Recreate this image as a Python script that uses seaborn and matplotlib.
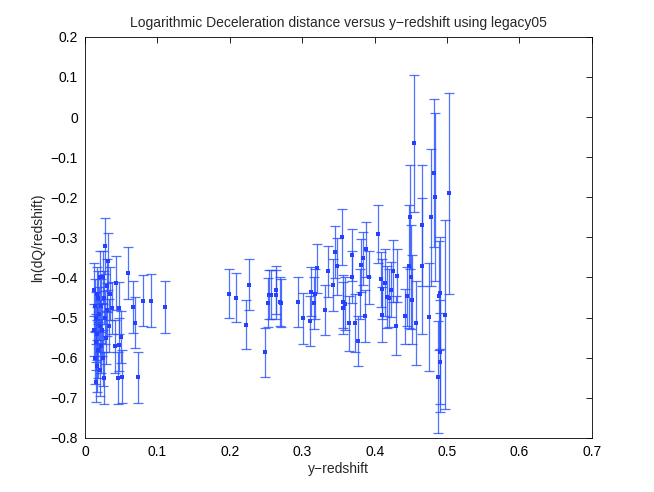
import matplotlib
matplotlib.use("Agg")
import matplotlib.pyplot as plt
import seaborn as sns
import numpy as np
import pandas as pd

# redshift, ln(dQ/redshift), error half-length
z = [
    0.0125, 0.0130, 0.0135, 0.0140, 0.0145, 0.0150, 0.0155, 0.0160, 0.0165, 0.0170,
    0.0175, 0.0185, 0.0190, 0.0200, 0.0205, 0.0210, 0.0215, 0.0225, 0.0235, 0.0245,
    0.0250, 0.0260, 0.0262, 0.0270, 0.0280, 0.0290, 0.0300, 0.0310, 0.0320, 0.0330,
    0.0345, 0.0373, 0.0410, 0.0428, 0.0460, 0.0474, 0.0474, 0.0502, 0.0515, 0.0598,
    0.0659, 0.0695, 0.0732, 0.0806, 0.0916, 0.1110,
    0.1993, 0.2086, 0.2261, 0.2224, 0.2490, 0.2523, 0.2546, 0.2573, 0.2638, 0.2638,
    0.2693, 0.2712, 0.2938, 0.3015, 0.3108, 0.3117, 0.3163, 0.3173, 0.3204, 0.3319,
    0.3360, 0.3430, 0.3453, 0.3476, 0.3550, 0.3560, 0.3568, 0.3587, 0.3642, 0.3688,
    0.3684, 0.3729, 0.3775, 0.3798, 0.3808, 0.3836, 0.3863, 0.3881, 0.3927, 0.4051,
    0.4084, 0.4098, 0.4106, 0.4144, 0.4175, 0.4203, 0.4227, 0.4258, 0.4300, 0.4314,
    0.4425, 0.4452, 0.4480, 0.4490, 0.4500, 0.4517, 0.4544, 0.4570, 0.4660, 0.4660,
    0.4756, 0.4775, 0.4820, 0.4830, 0.4880, 0.4885, 0.4900, 0.4908, 0.4900, 0.4968,
    0.5032,
]
lnq = [
    -0.430, -0.530, -0.600, -0.470, -0.560, -0.660, -0.500, -0.440, -0.620, -0.540,
    -0.580, -0.450, -0.490, -0.520, -0.630, -0.400, -0.570, -0.470, -0.530, -0.400,
    -0.600, -0.450, -0.651, -0.500, -0.3225, -0.550, -0.420, -0.480, -0.360, -0.520,
    -0.440, -0.477, -0.572, -0.413, -0.651, -0.477, -0.568, -0.549, -0.647, -0.388,
    -0.474, -0.5125, -0.649, -0.4575, -0.4575, -0.474,
    -0.440, -0.451, -0.4175, -0.518, -0.587, -0.4625, -0.4425, -0.4425, -0.431, -0.4425,
    -0.460, -0.464, -0.4617, -0.5017, -0.509, -0.435, -0.463, -0.441, -0.3775, -0.481,
    -0.385, -0.418, -0.336, -0.3725, -0.299, -0.460, -0.476, -0.465, -0.514, -0.345,
    -0.399, -0.513, -0.5575, -0.441, -0.370, -0.352, -0.496, -0.330, -0.399, -0.292,
    -0.405, -0.428, -0.493, -0.413, -0.449, -0.451, -0.430, -0.384, -0.520, -0.396,
    -0.497, -0.447, -0.372, -0.250, -0.399, -0.455, -0.0658, -0.513, -0.270, -0.372,
    -0.499, -0.250, -0.139, -0.199, -0.649, -0.445, -0.438, -0.612, -0.585, -0.4925,
    -0.190,
]
err = [
    0.065, 0.065, 0.066, 0.065, 0.070, 0.050, 0.065, 0.066, 0.065, 0.067,
    0.070, 0.065, 0.066, 0.065, 0.066, 0.065, 0.067, 0.065, 0.066, 0.066,
    0.070, 0.066, 0.065, 0.067, 0.070, 0.066, 0.067, 0.066, 0.070, 0.066,
    0.067, 0.065, 0.066, 0.067, 0.065, 0.065, 0.066, 0.065, 0.065, 0.065,
    0.064, 0.064, 0.063, 0.064, 0.065, 0.064,
    0.061, 0.061, 0.0625, 0.061, 0.061, 0.060, 0.060, 0.060, 0.060, 0.060,
    0.060, 0.060, 0.062, 0.063, 0.063, 0.062, 0.065, 0.063, 0.062, 0.063,
    0.063, 0.065, 0.065, 0.070, 0.070, 0.065, 0.065, 0.065, 0.069, 0.065,
    0.064, 0.073, 0.062, 0.062, 0.066, 0.066, 0.064, 0.068, 0.066, 0.072,
    0.068, 0.075, 0.069, 0.084, 0.077, 0.072, 0.069, 0.077, 0.073, 0.066,
    0.069, 0.073, 0.153, 0.130, 0.130, 0.110, 0.170, 0.104, 0.150, 0.170,
    0.134, 0.170, 0.185, 0.210, 0.140, 0.137, 0.140, 0.124, 0.130, 0.236,
    0.250,
]

df = pd.DataFrame({"z": z, "lnq": lnq, "err": err})

sns.set_theme(style="white")
plt.rcParams["font.family"] = ["Liberation Sans", "DejaVu Sans"]
plt.rcParams["xtick.direction"] = "in"
plt.rcParams["ytick.direction"] = "in"

blue = (0.15, 0.3, 1.0)

fig = plt.figure(figsize=(6.54, 4.92), dpi=100)
ax = fig.add_axes([0.13, 0.11, 0.775, 0.815])

ax.errorbar(df["z"], df["lnq"], yerr=df["err"], fmt="none", ecolor=blue,
            elinewidth=0.9, capsize=3.8, capthick=0.9, alpha=0.8)
sns.scatterplot(data=df, x="z", y="lnq", color=(0.15, 0.25, 1.0), s=6, linewidth=0,
                marker="s", ax=ax, zorder=3)

ax.set_xlim(0, 0.7)
ax.set_ylim(-0.8, 0.2)
xt = [0, 0.1, 0.2, 0.3, 0.4, 0.5, 0.6, 0.7]
yt = [0.2, 0.1, 0, -0.1, -0.2, -0.3, -0.4, -0.5, -0.6, -0.7, -0.8]
ax.set_xticks(xt)
ax.set_xticklabels(["%g" % v for v in xt])
ax.set_yticks(yt)
ax.set_yticklabels([("%g" % v).replace("-", "\u2212") for v in yt])
ax.tick_params(axis="both", labelsize=10, length=4.5, width=0.6, colors="black",
               top=True, right=True, pad=5)
for s in ax.spines.values():
    s.set_color("black")
    s.set_linewidth(0.6)

ax.set_title("Logarithmic Deceleration distance versus y\u2212redshift using legacy05",
             fontsize=10, pad=7)
ax.set_xlabel("y\u2212redshift", fontsize=10, labelpad=2)
ax.set_ylabel("ln(dQ/redshift)", fontsize=10, labelpad=4)

fig.savefig("out.png", dpi=100)
